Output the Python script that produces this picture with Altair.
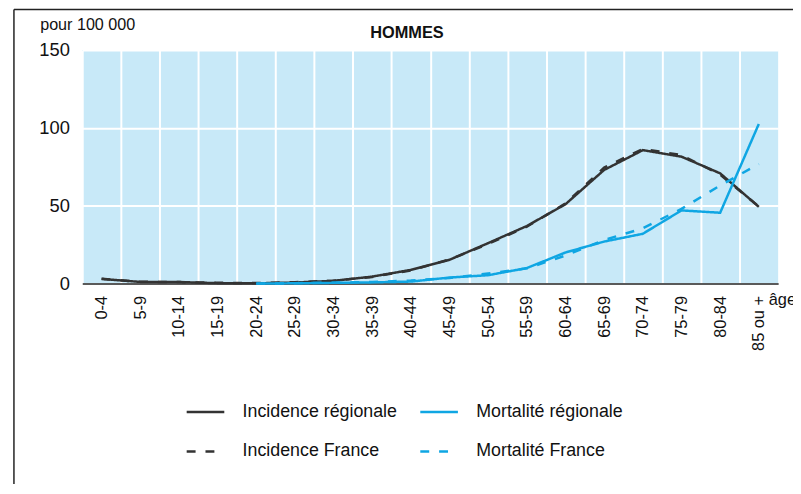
import altair as alt
import pandas as pd

ages = ["0-4", "5-9", "10-14", "15-19", "20-24", "25-29", "30-34", "35-39", "40-44",
        "45-49", "50-54", "55-59", "60-64", "65-69", "70-74", "75-79", "80-84", "85 ou +"]
inc_reg = [3.0, 1.1, 1.0, 0.3, 0.2, 0.7, 1.8, 4.5, 8.8, 15.3, 26.0, 37.0, 51.0, 73.0, 85.7, 81.5, 70.8, 49.3]
inc_fr = [3.1, 1.2, 1.0, 0.5, 0.4, 0.9, 1.9, 4.3, 8.5, 15.5, 25.5, 36.5, 51.5, 74.5, 86.5, 82.5, 70.0, 49.5]
mort_reg = [None, None, None, None, 0.0, 0.2, 0.5, 0.8, 1.3, 3.9, 5.4, 10.0, 20.0, 27.0, 32.0, 47.0, 45.5, 102.5]
mort_fr = [None, None, None, None, 0.0, 0.3, 0.6, 1.0, 2.0, 3.6, 6.5, 9.8, 18.0, 28.0, 35.5, 48.0, 63.0, 76.8]
series = ["Incidence régionale", "Incidence France", "Mortalité régionale", "Mortalité France"]
colors = ["#333333", "#333333", "#0fa6e3", "#0fa6e3"]
dashes = [[1, 0], [9, 10], [1, 0], [9, 10]]

rows = []
for name, vals in zip(series, [inc_reg, inc_fr, mort_reg, mort_fr]):
    for i, (a, v) in enumerate(zip(ages, vals)):
        if v is None:
            continue
        rows.append({"idx": i, "age": a, "valeur": v, "serie": name})
df = pd.DataFrame(rows)

W, H = 703, 236
band = W / len(ages)
label_js = "[" + ",".join("'" + a + "'" for a in ages) + "]"

legend = alt.Legend(
    title=None, orient="none", legendX=104, legendY=345, columns=2,
    columnPadding=17, rowPadding=10, labelFontSize=18, labelColor="#111111",
    symbolType="stroke", symbolSize=1444, symbolStrokeWidth=2.5, labelOffset=17,
    labelLimit=300,
)

x = alt.X(
    "idx:Q",
    scale=alt.Scale(domain=[-0.5, len(ages) - 0.5], nice=False, zero=False),
    axis=alt.Axis(
        values=[i - 0.5 for i in range(len(ages))],
        labelExpr=label_js + "[round(datum.value + 0.5)]",
        labelOffset=band / 2, labelAngle=-90, labelAlign="right", labelBaseline="middle",
        labelFontSize=16.5, labelColor="#111111", labelPadding=12, labelOverlap=False,
        labelFlush=False, labelBound=False,
        ticks=False, tickSize=0, grid=True, gridColor="white", gridWidth=2, gridOpacity=1,
        domain=True, domainColor="#5a5a5a", domainWidth=2,
        title="âge", titleAngle=0, titleX=693, titleY=21.5, titleAlign="left",
        titleBaseline="alphabetic", titleFontWeight="normal", titleFontSize=16.5,
        titleColor="#111111",
    ),
)
y = alt.Y(
    "valeur:Q",
    scale=alt.Scale(domain=[0, 150], nice=False),
    axis=alt.Axis(
        values=[0, 50, 100, 150], labelFontSize=18.5, labelColor="#111111", labelPadding=13,
        ticks=False, tickSize=0, domain=False, grid=True, gridColor="white", gridWidth=2,
        gridOpacity=1,
        title="pour 100 000", titleAngle=0, titleX=-43, titleY=-21, titleAlign="left",
        titleBaseline="alphabetic", titleFontWeight="normal", titleFontSize=16.3,
        titleColor="#111111",
    ),
)

lines = alt.Chart(df).mark_line(strokeWidth=2.5).encode(
    x=x,
    y=y,
    color=alt.Color("serie:N", scale=alt.Scale(domain=series, range=colors), legend=legend),
    strokeDash=alt.StrokeDash("serie:N", scale=alt.Scale(domain=series, range=dashes), legend=legend),
    order="idx:Q",
)

title = alt.Chart(pd.DataFrame({"t": ["HOMMES"]})).mark_text(
    fontSize=16.5, fontWeight="bold", align="center", baseline="alphabetic", color="#111111"
).encode(text="t:N", x=alt.value(328), y=alt.value(-12.5))

frame_left = alt.Chart(pd.DataFrame({"a": [0]})).mark_rule(color="#222222", strokeWidth=1.5).encode(
    x=alt.value(-69), y=alt.value(-41), y2=alt.value(450)
)
frame_top = alt.Chart(pd.DataFrame({"a": [0]})).mark_rule(color="#222222", strokeWidth=1.5).encode(
    x=alt.value(-69), x2=alt.value(730), y=alt.value(-41)
)

chart = alt.layer(lines, title, frame_left, frame_top).properties(
    width=W, height=H,
    autosize=alt.AutoSizeParams(type="none"),
    padding={"left": 75, "top": 40, "right": 15, "bottom": 200},
).configure(font="Liberation Sans").configure_view(fill="#c8e9f8", stroke=None)

chart.save("out.html", embed_options={"renderer": "svg", "actions": False})
